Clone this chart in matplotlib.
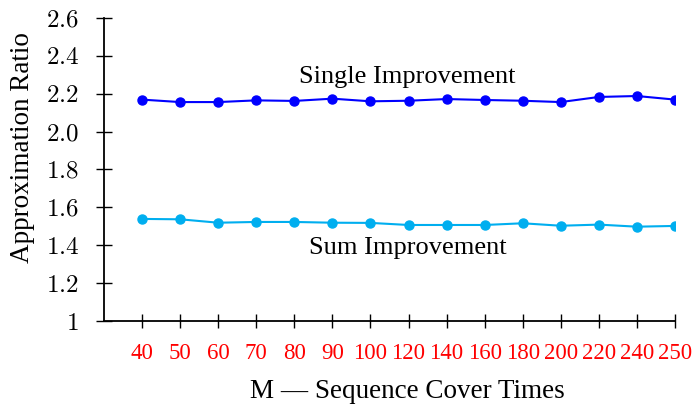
import numpy as np
import matplotlib.pyplot as plt

# M values (shown as evenly spaced categories)
m_labels = ["40", "50", "60", "70", "80", "90", "100", "120", "140",
            "160", "180", "200", "220", "240", "250"]

single_improvement = [2.169, 2.156, 2.156, 2.165, 2.162, 2.174, 2.160, 2.163,
                      2.172, 2.167, 2.163, 2.156, 2.183, 2.188, 2.169]
sum_improvement = [1.539, 1.537, 1.519, 1.523, 1.523, 1.519, 1.518, 1.507,
                   1.507, 1.507, 1.516, 1.503, 1.509, 1.498, 1.502]

y_ticks = [1.0, 1.2, 1.4, 1.6, 1.8, 2.0, 2.2, 2.4, 2.6]


def main() -> None:
    plt.rcParams['font.family'] = ['Liberation Serif', 'DejaVu Serif']
    plt.rcParams['mathtext.fontset'] = 'cm'

    fig = plt.figure(figsize=(6.96, 4.05), dpi=100)
    ax = fig.add_axes([0.1494, 0.2074, 0.8204, 0.7482])

    x = np.arange(1, len(m_labels) + 1)
    ax.plot(x, single_improvement, color="#0000ff", marker="o", markersize=6.5, linewidth=1.5)
    ax.plot(x, sum_improvement, color="#00aeef", marker="o", markersize=6.5, linewidth=1.5)

    ax.text(7.97, 2.288, "Single Improvement", fontsize=19, ha="center", va="center")
    ax.text(7.97, 1.388, "Sum Improvement", fontsize=19, ha="center", va="center")

    ax.set_xlim(0, len(m_labels))
    ax.set_ylim(1, 2.6)

    ax.set_xticks(x)
    ax.set_xticklabels(m_labels, color="red", fontsize=16.5)
    ax.set_yticks(y_ticks)
    ax.set_yticklabels(["$1$"] + [f"${v:.1f}$" for v in y_ticks[1:]], fontsize=18)

    ax.spines["top"].set_visible(False)
    ax.spines["right"].set_visible(False)
    ax.spines["left"].set_linewidth(1.3)
    ax.spines["bottom"].set_linewidth(1.3)
    ax.tick_params(axis="x", direction="inout", length=10, width=1, pad=11)
    ax.tick_params(axis="y", direction="inout", length=12, width=1, pad=12)

    ax.set_xlabel("M — Sequence Cover Times", fontsize=19.5)
    ax.set_ylabel("Approximation Ratio", fontsize=19.5)
    # the labels in the original sit a bit off the axis centre
    ax.xaxis.set_label_coords(0.531, -0.19)
    ax.yaxis.set_label_coords(-0.12, 0.574)

    fig.savefig("out.png", dpi=100)


if __name__ == '__main__':
    main()
